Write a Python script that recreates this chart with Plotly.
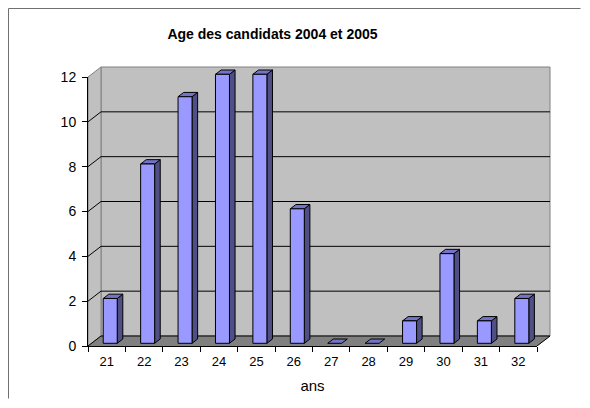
import plotly.graph_objects as go

# ---- data ----
categories = ["21", "22", "23", "24", "25", "26", "27", "28", "29", "30", "31", "32"]
counts = [2, 8, 11, 12, 12, 6, 0, 0, 1, 4, 1, 2]
y_ticks = [0, 2, 4, 6, 8, 10, 12]
title_text = "Age des candidats 2004 et 2005"
x_title = "ans"

# ---- layout geometry (pixels; the page body adds an 8px margin) ----
OFF = 8
W, H = 590 - 2 * OFF, 408 - 2 * OFF
PL, PT = 88 - OFF, 65 - OFF          # left / top of the 3-D box area
PLOT_W, PLOT_H = 464, 281
FRONT_W, FRONT_H = 449, 269
DEPTH_X_PX, DEPTH_Y_PX = 13, 10
BAR_W_PX = 14
T0, T1 = 0.27, 0.70

n = len(categories)
ymax = max(y_ticks)
PX = FRONT_W / n
PY = FRONT_H / ymax
DX = DEPTH_X_PX / PX
DY = DEPTH_Y_PX / PY
BW = BAR_W_PX / PX
x_lo, x_hi = -0.5, n - 0.5

box_x = [PL / W, (PL + PLOT_W) / W]
box_y = [1 - (PT + PLOT_H) / H, 1 - PT / H]
front_x = [PL / W, (PL + FRONT_W) / W]
front_y = [1 - (PT + PLOT_H) / H, 1 - (PT + PLOT_H - FRONT_H) / H]

FONT = "Liberation Sans, Arial, sans-serif"
FRONT_C = "#9999FF"
SIDE_C = "#4F4F86"
TOP_C = "#7474C6"
WALL_C = "#C0C0C0"
FLOOR_C = "#808080"
EDGE_C = "#808080"
FRAME_C = "#707070"

fig = go.Figure()

def poly(xs, ys, fill, line_color, line_w):
    fig.add_trace(go.Scatter(x=xs, y=ys, mode="lines", fill="toself", fillcolor=fill,
                             line=dict(color=line_color, width=line_w),
                             hoverinfo="skip", showlegend=False, xaxis="x", yaxis="y"))

def lines(xs, ys, color, w=1):
    fig.add_trace(go.Scatter(x=xs, y=ys, mode="lines", line=dict(color=color, width=w),
                             hoverinfo="skip", showlegend=False, xaxis="x", yaxis="y"))

# back wall
poly([x_lo + DX, x_hi + DX, x_hi + DX, x_lo + DX, x_lo + DX],
     [DY, DY, ymax + DY, ymax + DY, DY], WALL_C, EDGE_C, 1)
# left wall
poly([x_lo, x_lo + DX, x_lo + DX, x_lo, x_lo],
     [0, DY, ymax + DY, ymax, 0], WALL_C, EDGE_C, 1)
# floor
poly([x_lo, x_hi, x_hi + DX, x_lo + DX, x_lo],
     [0, 0, DY, DY, 0], FLOOR_C, FLOOR_C, 0.5)

# gridlines (black) for all ticks but the top one
gx, gy = [], []
for v in y_ticks[:-1]:
    gx += [x_lo, x_lo + DX, x_hi + DX, None]
    gy += [v, v + DY, v + DY, None]
gx += [x_hi, x_hi + DX, None]
gy += [0, DY, None]
lines(gx, gy, "#000000", 1)

# bars
fx, fy, sx, sy, tx, ty = [], [], [], [], [], []
for i, v in enumerate(counts):
    xl0 = i + T0 * DX - BW / 2
    xr0 = xl0 + BW
    xl1 = xl0 + (T1 - T0) * DX
    xr1 = xr0 + (T1 - T0) * DX
    y0 = T0 * DY
    y1 = T1 * DY
    if v > 0:
        fx += [xl0, xr0, xr0, xl0, xl0, None]
        fy += [y0, y0, v + y0, v + y0, y0, None]
        sx += [xr0, xr1, xr1, xr0, xr0, None]
        sy += [y0, y1, v + y1, v + y0, y0, None]
    tx += [xl0, xr0, xr1, xl1, xl0, None]
    ty += [v + y0, v + y0, v + y1, v + y1, v + y0, None]

poly(sx, sy, SIDE_C, "#000000", 1)
poly(tx, ty, TOP_C, "#000000", 1)
poly(fx, fy, FRONT_C, "#000000", 1)

# invisible trace carrying the category axis
fig.add_trace(go.Scatter(x=categories, y=counts, mode="markers", marker=dict(opacity=0),
                         hoverinfo="skip", showlegend=False, xaxis="x2", yaxis="y2"))

# outer chart frame (left and top edges; the rest runs off the page)
fig.add_trace(go.Scatter(x=[0.5, 0.5, W - 1.5], y=[1.5, H - 0.5, H - 0.5], mode="lines",
                         line=dict(color=FRAME_C, width=1), hoverinfo="skip",
                         showlegend=False, xaxis="x3", yaxis="y3"))

fig.update_layout(
    width=W, height=H,
    margin=dict(l=0, r=0, t=0, b=0, pad=0, autoexpand=False),
    paper_bgcolor="white", plot_bgcolor="rgba(0,0,0,0)",
    showlegend=False, hovermode=False,
    title=dict(text="<b>" + title_text + "</b>", x=(272.5 - OFF) / W, xanchor="center",
               y=1 - (34 - OFF) / H, yanchor="middle",
               font=dict(family=FONT, size=14, color="#000000")),
    xaxis=dict(domain=box_x, range=[x_lo, x_lo + PLOT_W / PX], visible=False,
               anchor="y", fixedrange=True),
    yaxis=dict(domain=box_y, range=[0, PLOT_H / PY], visible=False,
               anchor="x", fixedrange=True),
    xaxis2=dict(domain=front_x, range=[x_lo, x_hi], type="category",
                categoryorder="array", categoryarray=categories,
                tickson="boundaries", ticks="outside", ticklen=5, tickcolor="#000000",
                showline=True, linecolor="#000000", linewidth=1, showgrid=False,
                zeroline=False, anchor="y2", ticklabelstandoff=3, automargin=False,
                tickfont=dict(family=FONT, size=13, color="#000000"),
                title=dict(text=x_title, standoff=12,
                           font=dict(family=FONT, size=15, color="#000000")),
                fixedrange=True),
    yaxis2=dict(domain=front_y, range=[0, ymax], tickvals=y_ticks,
                ticks="outside", ticklen=5, tickcolor="#000000",
                showline=True, linecolor="#000000", linewidth=1, showgrid=False,
                zeroline=False, anchor="x2", ticklabelstandoff=3, automargin=False,
                tickfont=dict(family=FONT, size=14, color="#000000"),
                fixedrange=True),
    xaxis3=dict(domain=[0, 1], range=[0, W], visible=False, anchor="y3", fixedrange=True),
    yaxis3=dict(domain=[0, 1], range=[0, H], visible=False, anchor="x3", fixedrange=True),
)

fig.write_html("out.html", config={"displayModeBar": False})
